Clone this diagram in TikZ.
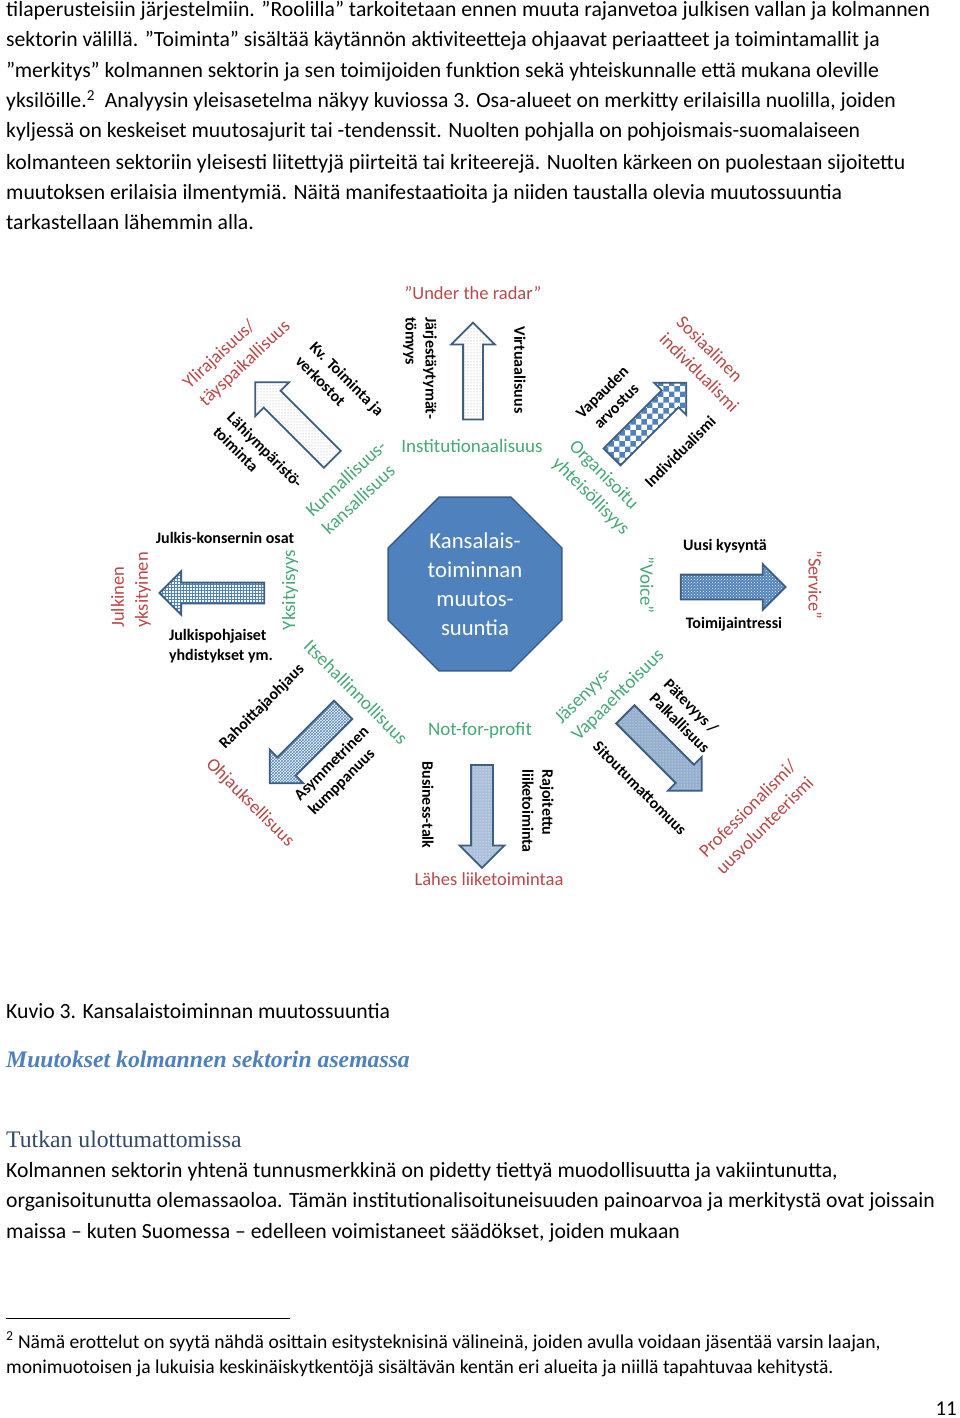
\documentclass[tikz,border=0pt]{standalone}
\usepackage{fontspec}
\setmainfont{Carlito}
\newfontfamily\headfont{Liberation Serif}
\usepackage{xcolor}
\usetikzlibrary{patterns,shapes.arrows,shapes.geometric,positioning}
\definecolor{octfill}{RGB}{79,129,189}
\definecolor{octdraw}{RGB}{56,93,138}
\definecolor{arrdraw}{RGB}{62,94,128}
\definecolor{labred}{RGB}{185,72,72}
\definecolor{labgreen}{RGB}{72,168,118}
\definecolor{headblue}{RGB}{79,129,189}
\definecolor{subhead}{RGB}{52,72,104}
\tikzset{
	x=1pt, y=-1pt,
	body/.style={anchor=base west, inner sep=0pt, font=\fontsize{21.7}{24}\selectfont},
	foot/.style={anchor=base west, inner sep=0pt, font=\fontsize{19.6}{22}\selectfont},
	blk/.style={font=\fontsize{16}{20}\selectfont\bfseries, align=left, inner sep=0pt},
	redlab/.style={font=\fontsize{18.5}{24}\selectfont, text=labred, align=left, inner sep=0pt},
	grnlab/.style={font=\fontsize{19}{24}\selectfont, text=labgreen, align=left, inner sep=0pt},
	octagon/.style={regular polygon, regular polygon sides=8, minimum size=188pt,
			fill=octfill, draw=octdraw, line width=1.5pt, inner sep=0pt,
			text=white, align=center, font=\fontsize{22.7}{29}\selectfont},
	barrow/.style n args={3}{single arrow, draw=arrdraw, line width=1.8pt,
			inner xsep=0pt, inner ysep=#2, minimum width=0pt, minimum height=#1,
			single arrow head extend=#3, single arrow tip angle=90},
	dotsWhite/.style={preaction={fill=white}, pattern=dots, pattern color=gray!70},
	checkBlue/.style={preaction={fill=white}, pattern=checkerboard, pattern color=octfill},
	dotsBlue/.style={preaction={fill=octfill}, pattern=crosshatch dots, pattern color=white},
	gridBlue/.style={preaction={fill=white}, pattern=grid, pattern color=octfill},
	crossBlue/.style={preaction={fill=white}, pattern=crosshatch, pattern color=octfill},
	dotsPale/.style={preaction={fill={rgb,255:red,170;green,192;blue,218}}, pattern=dots, pattern color=white},
	dotsMid/.style={preaction={fill={rgb,255:red,148;green,174;blue,206}}, pattern=dots, pattern color=white},
}

\begin{document}
\begin{tikzpicture}
	\fill[white] (0,0) rectangle (960,1418);
	\useasboundingbox (0,0) rectangle (960,1418);

	% text above the figure
	\node[body] (Para1) at (6,17) {tilaperusteisiin järjestelmiin. ”Roolilla” tarkoitetaan ennen muuta rajanvetoa julkisen vallan ja kolmannen};
	\node[body] (Para2) at (6,47) {sektorin välillä. ”Toiminta” sisältää käytännön aktiviteetteja ohjaavat periaatteet ja toimintamallit ja};
	\node[body] (Para3) at (6,78) {”merkitys” kolmannen sektorin ja sen toimijoiden funktion sekä yhteiskunnalle että mukana oleville};
	\node[body] (Para4) at (6,108) {yksilöille.\textsuperscript{2}\ \ Analyysin yleisasetelma näkyy kuviossa 3. Osa-alueet on merkitty erilaisilla nuolilla, joiden};
	\node[body] (Para5) at (6,138) {kyljessä on keskeiset muutosajurit tai -tendenssit. Nuolten pohjalla on pohjoismais-suomalaiseen};
	\node[body] (Para6) at (6,169) {kolmanteen sektoriin yleisesti liitettyjä piirteitä tai kriteerejä. Nuolten kärkeen on puolestaan sijoitettu};
	\node[body] (Para7) at (6,199) {muutoksen erilaisia ilmentymiä. Näitä manifestaatioita ja niiden taustalla olevia muutossuuntia};
	\node[body] (Para8) at (6,229) {tarkastellaan lähemmin alla.};

	% centre
	\node[octagon] (Centre) at (475,584) {Kansalais-\\toiminnan\\muutos-\\suuntia};

	% arrows
	\node[barrow={97pt}{9pt}{12pt}, dotsWhite, rotate=90] (ArrowUp) at (473,376) {};
	\node[barrow={109pt}{11pt}{12pt}, dotsWhite, rotate=135] (ArrowNW) at (298,425) {};
	\node[barrow={105pt}{11pt}{11pt}, checkBlue, rotate=45] (ArrowNE) at (645,424) {};
	\node[barrow={105pt}{11.5pt}{10.5pt}, dotsBlue] (ArrowRight) at (727,587) {};
	\node[barrow={105pt}{9.5pt}{11.5pt}, gridBlue, rotate=180] (ArrowLeft) at (217,593) {};
	\node[barrow={104pt}{12pt}{11pt}, crossBlue, rotate=225] (ArrowSW) at (311,742) {};
	\node[barrow={103pt}{10pt}{11.5pt}, dotsPale, rotate=270] (ArrowDown) at (482,811) {};
	\node[barrow={108pt}{12pt}{11pt}, dotsMid, rotate=-45] (ArrowSE) at (659,748) {};

	% top
	\node[redlab] (UnderRadar) at (473,293) {”Under the radar”};
	\node[blk, rotate=-90] (Jarjest) at (420,368) {Järjestäytymät-\\tömyys};
	\node[blk, rotate=-90] (Virtual) at (520,370) {Virtuaalisuus};
	\node[grnlab] (Institution) at (472,446) {Institutionaalisuus};

	% upper left
	\node[redlab, rotate=43] (Ylirajaisuus) at (237,355) {Ylirajaisuus/\\täyspaikallisuus};
	\node[blk, rotate=-45] (KvToiminta) at (340,386) {Kv. Toiminta ja\\verkostot};
	\node[blk, rotate=-45] (Lahiymparisto) at (258,457) {Lähiympäristö-\\toiminta};
	\node[grnlab, rotate=43] (Kunnallisuus) at (354,487) {Kunnallisuus-\\kansallisuus};

	% upper right
	\node[redlab, rotate=-45] (Sosiaalinen) at (708,364) {Sosiaalinen\\individualismi};
	\node[blk, rotate=45, align=center] (Vapauden) at (609,399) {Vapauden\\arvostus};
	\node[blk, rotate=45] (Individualismi) at (680,452) {Individualismi};
	\node[grnlab, rotate=-45] (Organisoitu) at (599,488) {Organisoitu\\yhteisöllisyys};

	% left
	\node[redlab, rotate=90] (JulkYks) at (131,590) {Julkinen\\yksityinen};
	\node[blk] (Konserni) at (225,538) {Julkis-konsernin osat};
	\node[blk] (Julkispohj) at (221,646) {Julkispohjaiset\\yhdistykset ym.};
	\node[grnlab, rotate=90] (Yksityisyys) at (290,590) {Yksityisyys};

	% right
	\node[grnlab, rotate=-90] (Voice) at (647,585) {”Voice”};
	\node[blk] (Kysynta) at (725,546) {Uusi kysyntä};
	\node[blk] (Intressi) at (734,624) {Toimijaintressi};
	\node[redlab, rotate=-90] (Service) at (815,585) {”Service”};

	% lower left
	\node[grnlab, rotate=-45] (Itsehallinto) at (356,692) {Itsehallinnollisuus};
	\node[blk, rotate=45] (Rahoittaja) at (262,707) {Rahoittajaohjaus};
	\node[redlab, rotate=-45] (Ohjaus) at (250,803) {Ohjauksellisuus};
	\node[blk, rotate=45] (Asymmetrinen) at (339,771) {Asymmetrinen\\kumppanuus};

	% bottom
	\node[grnlab] (NotProfit) at (480,730) {Not-for-profit};
	\node[blk, rotate=-90] (Business) at (428,805) {Business-talk};
	\node[blk, rotate=-90] (Rajoitettu) at (538,811) {Rajoitettu\\liiketoiminta};
	\node[redlab] (Liiketoiminta) at (489,879) {Lähes liiketoimintaa};

	% lower right
	\node[grnlab, rotate=45] (Jasenyys) at (610,687) {Jäsenyys-\\Vapaaehtoisuus};
	\node[blk, rotate=-45] (Patevyys) at (687,716) {Pätevyys /\\Palkallisuus};
	\node[blk, rotate=-45] (Sitoutumatt) at (640,788) {Sitoutumattomuus};
	\node[redlab, rotate=45] (Professional) at (756,817) {Professionalismi/\\uusvolunteerismi};

	% caption and text below
	\node[body] (Caption) at (6,1018) {Kuvio 3. Kansalaistoiminnan muutossuuntia};
	\node[body, font=\headfont\fontsize{23.7}{26}\selectfont\bfseries\itshape, text=headblue] (Heading) at (6,1067) {Muutokset kolmannen sektorin asemassa};
	\node[body, font=\headfont\fontsize{23.7}{26}\selectfont, text=subhead] (SubHeading) at (6,1147) {Tutkan ulottumattomissa};
	\node[body] (Para9) at (6,1177) {Kolmannen sektorin yhtenä tunnusmerkkinä on pidetty tiettyä muodollisuutta ja vakiintunutta,};
	\node[body] (Para10) at (6,1207) {organisoitunutta olemassaoloa. Tämän institutionalisoituneisuuden painoarvoa ja merkitystä ovat joissain};
	\node[body] (Para11) at (6,1238) {maissa – kuten Suomessa – edelleen voimistaneet säädökset, joiden mukaan};

	% footnote
	\coordinate (RuleStart) at (6,1318);
	\coordinate (RuleEnd) at (290,1318);
	\draw[line width=1pt] (RuleStart) -- (RuleEnd);
	\node[foot] (Foot1) at (6,1348) {\textsuperscript{2} Nämä erottelut on syytä nähdä osittain esitysteknisinä välineinä, joiden avulla voidaan jäsentää varsin laajan,};
	\node[foot] (Foot2) at (6,1373) {monimuotoisen ja lukuisia keskinäiskytkentöjä sisältävän kentän eri alueita ja niillä tapahtuvaa kehitystä.};
	\node[body, anchor=base east, font=\fontsize{21}{22}\selectfont] (PageNo) at (957,1415) {11};
\end{tikzpicture}
\end{document}
